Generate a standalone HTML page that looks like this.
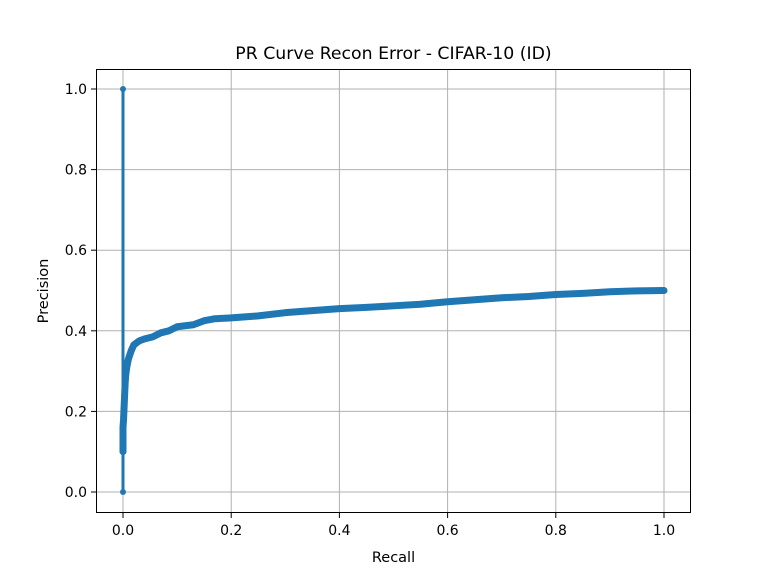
<!DOCTYPE html>
<html><head><meta charset="utf-8"><style>
body{margin:0;background:#fff}
text{font-family:"DejaVu Sans","Liberation Sans",sans-serif;fill:#000}
</style></head><body>
<svg id="c" width="768" height="576" xmlns="http://www.w3.org/2000/svg">
<rect width="768" height="576" fill="#fff"/>
<text x="393.5" y="59" font-size="17.3" text-anchor="middle">PR Curve Recon Error - CIFAR-10 (ID)</text>
<g id="grid"></g>
<g id="ticks"></g>
<g id="series"></g>
<rect x="96.5" y="69.5" width="594" height="443" fill="none" stroke="#000" stroke-width="1"/>
<text x="393.5" y="562" font-size="14.5" text-anchor="middle">Recall</text>
<text transform="translate(48,291) rotate(-90)" font-size="14.5" text-anchor="middle">Precision</text>
</svg>
<script>
const xTicks=[0,0.2,0.4,0.6,0.8,1.0];
const xTickLabels=["0.0","0.2","0.4","0.6","0.8","1.0"];
const yTicks=[0,0.2,0.4,0.6,0.8,1.0];
const yTickLabels=["0.0","0.2","0.4","0.6","0.8","1.0"];
const recall=[0,0,0,0,0.001,0.002,0.003,0.004,0.005,0.007,0.01,0.015,0.02,0.03,0.04,0.055,0.07,0.085,0.1,0.13,0.15,0.17,0.2,0.25,0.3,0.35,0.4,0.45,0.5,0.55,0.6,0.65,0.7,0.75,0.8,0.85,0.9,0.95,1.0];
const precision=[0,1,0.1,0.16,0.18,0.21,0.24,0.27,0.29,0.31,0.33,0.35,0.365,0.375,0.38,0.385,0.395,0.4,0.41,0.415,0.425,0.43,0.432,0.437,0.445,0.45,0.455,0.458,0.462,0.466,0.472,0.477,0.482,0.485,0.49,0.493,0.497,0.499,0.5];
const X=v=>123+v*541, Y=v=>492-v*403;
const ns="http://www.w3.org/2000/svg";
function mk(t,a,p){const e=document.createElementNS(ns,t);for(const k in a)e.setAttribute(k,a[k]);p.appendChild(e);return e;}
const g=document.getElementById('grid'),tk=document.getElementById('ticks'),s=document.getElementById('series');
xTicks.forEach((v,i)=>{
 const l=mk('line',{x1:X(v),x2:X(v),y1:69,y2:513,stroke:'#b0b0b0','stroke-width':1},g);
 
 
 mk('line',{x1:X(v),x2:X(v),y1:513,y2:518,stroke:'#000'},tk);
 const t=mk('text',{x:X(v),y:535,'font-size':14,'text-anchor':'middle'},tk);t.textContent=xTickLabels[i];
 
 
});
yTicks.forEach((v,i)=>{
 const l=mk('line',{x1:96,x2:691,y1:Y(v),y2:Y(v),stroke:'#b0b0b0','stroke-width':1},g);
 
 
 mk('line',{x1:91,x2:96,y1:Y(v),y2:Y(v),stroke:'#000'},tk);
 const t=mk('text',{x:87,y:Y(v)+5,'font-size':14,'text-anchor':'end'},tk);t.textContent=yTickLabels[i];
 
 
});
const sp=mk('line',{x1:X(0),x2:X(0),y1:Y(precision[0]),y2:Y(precision[1]),stroke:'#1f77b4','stroke-width':3},s);


const pts=recall.slice(2).map((r,i)=>X(r)+','+Y(precision[i+2])).join(' ');
const pl=mk('polyline',{points:pts,fill:'none',stroke:'#1f77b4','stroke-width':7,'stroke-linejoin':'round','stroke-linecap':'round'},s);


recall.forEach((r,i)=>{
 const c=mk('circle',{cx:X(r),cy:Y(precision[i]),r:3,fill:'#1f77b4'},s);
 
 
});
</script>
</body></html>
